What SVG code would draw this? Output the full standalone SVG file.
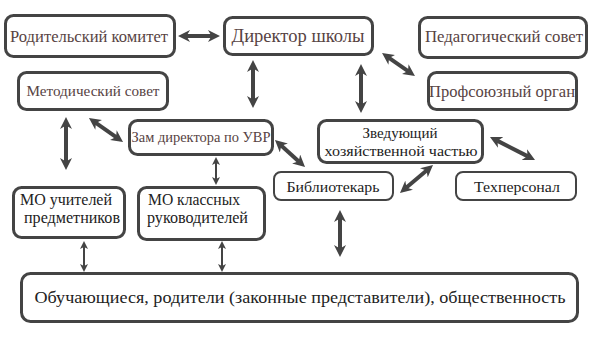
<svg xmlns="http://www.w3.org/2000/svg" width="594" height="347" viewBox="0 0 594 347">
<style>
.box{fill:#fff;stroke:#444;stroke-width:3}
.thin{stroke-width:2}
text{text-anchor:middle}
.br{fill:#574343}
.bk{fill:#222}
.st{text-anchor:start}
.a{stroke:#444;stroke-width:4;fill:none;marker-start:url(#ah);marker-end:url(#ah)}
.s{stroke:#444;stroke-width:2;fill:none;marker-start:url(#as);marker-end:url(#as)}
</style>
<defs>
<marker id="ah" viewBox="0 0 12 12" refX="4" refY="6" markerWidth="12" markerHeight="12" markerUnits="userSpaceOnUse" orient="auto-start-reverse"><path d="M0,0 L12,6 L0,12 L3.5,6 z" fill="#444"/></marker>
<marker id="as" viewBox="0 0 8 8" refX="3" refY="4" markerWidth="8" markerHeight="8" markerUnits="userSpaceOnUse" orient="auto-start-reverse"><path d="M0,0 L8,4 L0,8 L2,4 z" fill="#444"/></marker>
</defs>
<rect width="594" height="347" fill="#fff"/>
<g id="connectors">
<line class="a" x1="186" y1="36" x2="212" y2="36"/>
<line class="a" x1="253" y1="68" x2="253" y2="100"/>
<line class="a" x1="388.6" y1="57.6" x2="408.4" y2="71.4"/>
<line class="a" x1="361" y1="72" x2="361" y2="105"/>
<line class="a" x1="66" y1="125" x2="66" y2="162"/>
<line class="a" x1="95.5" y1="122.6" x2="116.5" y2="137.4"/>
<line class="a" x1="280.9" y1="145.3" x2="299.1" y2="161.7"/>
<line class="a" x1="497.1" y1="140.6" x2="527.9" y2="156.4"/>
<line class="a" x1="426.9" y1="170.2" x2="406.1" y2="187.8"/>
<line class="a" x1="340" y1="218" x2="340" y2="249"/>
<line class="s" x1="216" y1="162" x2="216" y2="180"/>
<line class="s" x1="84" y1="246" x2="84" y2="267"/>
<line class="s" x1="222" y1="246" x2="222" y2="267"/>
</g>
<g id="nodes" font-family="Liberation Serif, serif">
<g id="roditelsky">
<rect class="box" x="5.5" y="15.5" width="169" height="41" rx="8"/>
<text class="br" x="89" y="42" font-size="16.5" textLength="158" lengthAdjust="spacingAndGlyphs">Родительский комитет</text>
</g>
<g id="direktor">
<rect class="box" x="224.5" y="17.5" width="148" height="37" rx="8"/>
<text class="br" x="298" y="42" font-size="18" textLength="133" lengthAdjust="spacingAndGlyphs">Директор школы</text>
</g>
<g id="pedsovet">
<rect class="box" x="419.5" y="17.5" width="167" height="40" rx="8"/>
<text class="br" x="504" y="42" font-size="16.5" textLength="158" lengthAdjust="spacingAndGlyphs">Педагогический совет</text>
</g>
<g id="profsoyuz">
<rect class="box" x="428.5" y="72.5" width="148" height="37" rx="8"/>
<text class="br" x="502" y="97" font-size="16.5" textLength="146" lengthAdjust="spacingAndGlyphs">Профсоюзный орган</text>
</g>
<g id="metod">
<rect class="box" x="18.5" y="72.5" width="149" height="37" rx="8"/>
<text class="br" x="93" y="96" font-size="15" textLength="133" lengthAdjust="spacingAndGlyphs">Методический совет</text>
</g>
<g id="zam">
<rect class="box" x="129.5" y="120.5" width="143" height="34" rx="8"/>
<text class="br" x="201" y="142" font-size="14" textLength="139" lengthAdjust="spacingAndGlyphs">Зам директора по УВР</text>
</g>
<g id="zveduyushchiy">
<rect class="box" x="318.5" y="120.5" width="164" height="42" rx="8"/>
<text class="bk" x="400" y="138" font-size="15">Зведующий</text>
<text class="bk" x="401" y="156" font-size="15" textLength="153" lengthAdjust="spacingAndGlyphs">хозяйственной частью</text>
</g>
<g id="bibliotekar">
<rect class="box thin" x="274" y="172" width="119" height="28" rx="7"/>
<text class="bk" x="333" y="192" font-size="15" textLength="93" lengthAdjust="spacingAndGlyphs">Библиотекарь</text>
</g>
<g id="tekhpersonal">
<rect class="box thin" x="456" y="172" width="120" height="28" rx="7"/>
<text class="bk" x="517" y="192" font-size="15" textLength="86" lengthAdjust="spacingAndGlyphs">Техперсонал</text>
</g>
<g id="mo-uchiteley">
<rect class="box" x="13.5" y="187.5" width="111" height="50" rx="8"/>
<text class="bk st" x="20" y="205" font-size="16" textLength="92" lengthAdjust="spacingAndGlyphs">МО учителей</text>
<text class="bk st" x="24" y="223" font-size="16" textLength="96" lengthAdjust="spacingAndGlyphs">предметников</text>
</g>
<g id="mo-klassnykh">
<rect class="box" x="138.5" y="187.5" width="126" height="52" rx="8"/>
<text class="bk st" x="148" y="205" font-size="16" textLength="92" lengthAdjust="spacingAndGlyphs">МО классных</text>
<text class="bk st" x="147" y="223" font-size="16" textLength="101" lengthAdjust="spacingAndGlyphs">руководителей</text>
</g>
<g id="obuchayushchiesya">
<rect class="box" x="21.5" y="273.5" width="556" height="48" rx="9"/>
<text class="bk" x="300" y="303" font-size="17" textLength="531" lengthAdjust="spacingAndGlyphs">Обучающиеся, родители (законные представители), общественность</text>
</g>
</g>
</svg>
